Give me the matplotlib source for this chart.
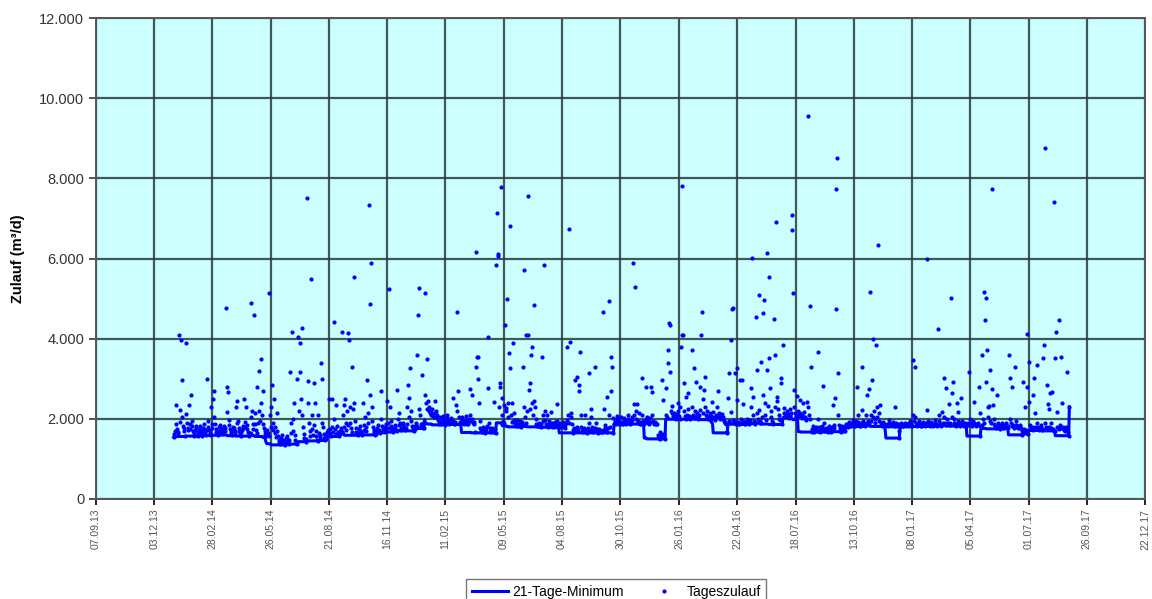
import numpy as np
import pandas as pd
import matplotlib
matplotlib.use('Agg')
import matplotlib.pyplot as plt
import matplotlib.dates as mdates
from matplotlib.ticker import FuncFormatter

plt.rcParams['font.family'] = ['Liberation Sans', 'DejaVu Sans']

# Tageszulauf in m³/d, eine Zeile pro Monat
zulauf_2014 = [
    1540, 1610, 1700, 2350, 1880, 1750, 1680, 1640, 4100, 2210, 1920, 3970, 2970, 2050, 1830, 1760, 1700, 1560, 3900, 2120, 1890, 1780, 1720, 2350, 1860, 1740, 2600, 1950, 1810, 1690, 1580,
    1650, 1720, 1810, 1760, 1600, 1570, 1680, 1750, 1830, 1700, 1620, 1580, 1690, 1780, 1860, 1740, 1660, 1600, 1720, 3000, 1950, 1800, 1710, 1640, 1590, 2300, 1880, 1760,
    2500, 2700, 2050, 1860, 1740, 1680, 1620, 1590, 1700, 1790, 1850, 1760, 1680, 1610, 1650, 1730, 1820, 1770, 1690, 4770, 2800, 2160, 2670, 1980, 1840, 1750, 1680, 1630, 1600, 1720, 1800,
    1760, 1690, 1640, 2300, 1900, 2450, 1950, 1780, 1700, 1620, 1580, 1660, 1730, 1810, 1760, 2500, 1920, 1800, 2300, 1850, 1740, 1670, 1610, 1570, 1650, 2050, 4900, 2200, 1880, 1750,
    4600, 2150, 1860, 1720, 1640, 2800, 1900, 2200, 3200, 1950, 2400, 3500, 2100, 2700, 1880, 1760, 1690, 1620, 1580, 1650, 1720, 1640, 1560, 5140, 2100, 1800, 2300, 2850, 1900, 1720, 2500,
    1800, 1650, 1540, 2150, 1700, 1560, 1480, 1420, 1380, 1450, 1520, 1600, 1480, 1400, 1360, 1350, 1430, 1510, 1580, 1490, 1410, 1370, 1460, 3170, 1900, 1650, 4170, 2000, 1700, 2400,
    1600, 1480, 1400, 1370, 3000, 4050, 2200, 3170, 3900, 2500, 4260, 2100, 1800, 1620, 1520, 1460, 1430, 1500, 7500, 2400, 2950, 1900, 1700, 1580, 5500, 2100, 1750, 1600, 2900, 1850, 2400,
    1700, 1560, 1480, 1450, 2100, 1650, 1540, 1600, 3400, 1900, 3000, 1800, 1620, 1520, 1460, 1500, 1580, 1670, 1720, 1600, 2500, 1750, 1640, 1560, 2500, 1800, 1680, 4420, 2000, 1750, 1620,
    2350, 1820, 1680, 1600, 1560, 1620, 1700, 1780, 1660, 4170, 2100, 1800, 2350, 2500, 1900, 1720, 2200, 1850, 4140, 3970, 2300, 1900, 1760, 1680, 3300, 2250, 5550, 2400, 1950, 1780,
    1680, 1620, 1590, 1650, 1740, 1820, 1700, 1640, 1600, 1680, 2400, 1850, 1720, 2050, 1800, 1690, 2970, 1900, 2150, 7330, 4870, 2600, 5900, 2300, 1950, 1800, 1720, 1660, 1600, 1630, 1700,
    1780, 1850, 1720, 1680, 1650, 2700, 2000, 1820, 1740, 1690, 1660, 1720, 1800, 1870, 1760, 2450, 1900, 1780, 5240, 2300, 1950, 1820, 1740, 1700, 1670, 1760, 1850, 1800, 1720, 1690,
    2720, 2000, 1850, 2150, 1900, 1780, 1720, 1760, 1840, 1900, 1800, 1740, 1710, 1780, 1860, 2300, 2850, 2520, 2050, 3270, 2200, 1950, 1820, 1760, 1720, 1700, 1750, 1830, 1900, 1810, 3600,
]
zulauf_2015 = [
    4590, 2250, 5260, 2100, 1880, 1800, 3100, 1900, 1780, 1760, 5140, 2600, 2400, 2250, 3500, 2450, 2300, 2200, 2150, 2100, 2180, 2250, 2120, 2080, 2050, 2150, 2450, 2200, 2100, 2040, 1980,
    1880, 1950, 2050, 1920, 1870, 1900, 1990, 2080, 1960, 1890, 1850, 1920, 2010, 2100, 1980, 1900, 1860, 1940, 2030, 1970, 1890, 2520, 1950, 1880, 1860, 1920, 2350, 4670,
    2200, 2700, 2050, 1930, 1880, 1900, 1960, 2040, 1920, 1870, 1900, 1980, 2060, 1950, 1880, 1860, 1920, 2000, 2750, 2100, 1950, 2600, 2000, 1900, 1870, 1920, 1660, 6160, 3300, 3550, 3000,
    3550, 2400, 1950, 1780, 1700, 1660, 1720, 1800, 1750, 1680, 1650, 1700, 1760, 1820, 4050, 2770, 1900, 1760, 1690, 1660, 1720, 1780, 1700, 1670, 2420, 1750, 1650, 5840, 7140, 6100,
    6060, 2300, 2900, 2800, 7780, 2520, 2100, 1950, 2350, 1900, 4340, 2200, 2270, 5000, 2400, 2050, 3640, 6800, 3270, 2100, 1920, 2400, 3900, 2150, 1980, 1880, 1830, 1900, 1960, 1850, 1820,
    1880, 1950, 1830, 1800, 1870, 1920, 3300, 5710, 2300, 2050, 1900, 4090, 2200, 4090, 7560, 2720, 2900, 2250, 3600, 3800, 2400, 2100, 4840, 2450, 2300, 2000, 1880, 1830, 1810, 1860,
    1900, 1850, 1800, 1880, 3550, 2100, 1950, 5840, 2200, 1980, 1860, 2100, 1820, 1800, 1880, 1950, 1870, 1830, 2170, 1900, 1820, 1790, 1850, 1930, 1880, 1810, 2370, 1950, 1840, 1800, 1850,
    1900, 1830, 1800, 1860, 1920, 1850, 1800, 1780, 1840, 1900, 1960, 3800, 2100, 1900, 6740, 3920, 2050, 2150, 1880, 1650, 1720, 1780, 2970, 1750, 1690, 3050, 1800, 1720, 2700, 2850, 3670,
    2100, 1800, 1700, 1670, 1720, 1780, 2100, 1750, 1680, 1650, 1700, 1760, 3150, 1900, 1720, 2250, 2050, 1800, 1690, 1660, 1710, 1780, 3300, 1900, 1750, 1680, 1650, 1700, 1740, 1690,
    1700, 1680, 1660, 1720, 4670, 2250, 1850, 1760, 1700, 1680, 2550, 1780, 4940, 2100, 1800, 3550, 2700, 3300, 2020, 1650, 1880, 1950, 1900, 1870, 2000, 2080, 1960, 1900, 1880, 1930, 2050,
    1920, 1880, 1870, 1950, 2030, 1960, 1900, 1880, 1920, 2000, 2100, 1980, 1900, 1870, 1890, 1960, 2050, 5890, 2370, 2100, 5290, 2200, 2000, 2370, 1950, 1900, 2150, 1920, 1880, 1870,
    3020, 2100, 1950, 1900, 1880, 1920, 1990, 2800, 2050, 1950, 1900, 1880, 1930, 2010, 2800, 2670, 2100, 1950, 1900, 1880, 1920, 1870, 1860, 1880, 1520, 1600, 1550, 1680, 1500, 1560, 1620,
]
zulauf_2016 = [
    2970, 2470, 1550, 1620, 1500, 2770, 2100, 2050, 3720, 3390, 4390, 4340, 3170, 2200, 2320, 2150, 2080, 2020, 2150, 2100, 1990, 2050, 2120, 2400, 2200, 2060, 2000, 2300, 3800, 7810, 4090,
    4090, 2900, 2200, 2080, 2000, 2540, 2100, 2640, 2250, 2080, 2020, 1990, 2050, 3720, 2300, 2100, 2030, 3270, 2200, 2080, 2920, 2150, 2050, 2000, 2100, 2220, 2800, 4090, 4670,
    2490, 2150, 2720, 3050, 2300, 2100, 2200, 2050, 1990, 2020, 2080, 2150, 2060, 2000, 2420, 2180, 2050, 2000, 1980, 2030, 2100, 2080, 2300, 2700, 2150, 2050, 2000, 2020, 2090, 2130, 2050,
    2000, 1950, 1920, 1900, 1880, 1650, 1680, 2520, 3140, 1950, 1900, 3970, 2170, 4740, 4770, 1980, 1900, 3140, 1950, 1880, 3270, 2470, 1920, 1880, 1870, 2970, 2000, 1900, 2970, 2370,
    1950, 1900, 1870, 1880, 1920, 2000, 1950, 1890, 1860, 1900, 1980, 2770, 2300, 6010, 2540, 2100, 1950, 1900, 1880, 4540, 3220, 2150, 2000, 5090, 2220, 1950, 1900, 3420, 2050, 4640, 2600,
    4970, 2400, 2100, 1980, 6140, 3220, 2320, 5540, 3520, 2770, 2200, 2050, 1950, 1900, 1870, 4500, 3590, 2300, 6910, 2540, 2450, 2250, 2100, 2000, 1960, 3020, 2900, 1860, 3840, 2270,
    2150, 2080, 2050, 2100, 2200, 2120, 2060, 2030, 2100, 2250, 2150, 6710, 7090, 5140, 2720, 2300, 2150, 2080, 2050, 2570, 2200, 2100, 2060, 2470, 2150, 2080, 2030, 2100, 2400, 2180, 2050,
    2050, 2000, 1980, 2420, 9560, 2300, 2100, 4820, 2000, 3300, 1680, 1750, 1820, 1700, 1670, 1740, 1800, 1720, 1690, 3670, 2000, 1800, 1720, 1680, 1750, 1820, 1760, 2820, 1900, 1750, 1690,
    1720, 1780, 1700, 1680, 1740, 1820, 1760, 1700, 1670, 1730, 1800, 2350, 1850, 1760, 2520, 7730, 4740, 8510, 3140, 2100, 1850, 1760, 1700, 1680, 1750, 1820, 1780, 1720, 1690, 1700,
    1850, 1880, 1820, 1800, 1860, 1920, 1870, 1830, 1810, 1850, 1900, 1960, 1880, 1830, 1810, 1870, 1950, 2800, 2100, 1920, 1860, 1830, 1820, 1900, 3300, 2220, 1950, 1880, 1840, 1810, 2100,
    1900, 2600, 1950, 1880, 2740, 5160, 2100, 1950, 2970, 2050, 3990, 2200, 2000, 1900, 3840, 2050, 2300, 6340, 2150, 1950, 2350, 1900, 1850, 1820, 1880, 1930, 1860, 1810, 1830, 1850,
    1880, 1850, 1820, 1900, 1960, 1880, 1840, 1820, 1870, 1920, 1860, 1830, 1810, 2300, 1900, 1850, 1820, 1880, 1700, 1520, 1800, 1850, 1900, 1880, 1830, 1820, 1870, 1900, 1850, 1830, 1880,
]
zulauf_2017 = [
    1880, 1850, 1830, 1900, 1950, 1870, 1840, 1820, 3470, 2100, 1950, 3300, 2050, 1900, 1860, 1830, 1880, 1940, 1900, 1850, 1820, 1810, 1870, 1920, 1880, 1840, 1820, 1860, 1900, 5990, 2220,
    1950, 1900, 1860, 1830, 1880, 1920, 1870, 1840, 1810, 1850, 1900, 1960, 1880, 1840, 1820, 4240, 2100, 1950, 1880, 1840, 1820, 2170, 1900, 3020, 2050, 1900, 1850, 2770,
    2000, 1900, 1860, 2370, 1900, 1850, 5010, 2640, 2050, 2920, 2000, 1900, 1850, 1830, 1880, 2400, 1950, 2170, 1900, 1860, 1820, 2520, 1950, 1880, 1840, 1820, 1870, 1900, 1860, 1830, 1850,
    1900, 1850, 3170, 2000, 1900, 1860, 1830, 1880, 1950, 1900, 2420, 1880, 1840, 1820, 1860, 1900, 1850, 2800, 2150, 1570, 1800, 1850, 3590, 2000, 1900, 5160, 4470, 2920, 5010, 3720,
    2300, 2050, 2320, 1950, 3220, 1900, 2740, 7730, 2350, 2000, 1880, 1820, 1790, 1760, 2600, 1900, 1820, 1780, 1750, 1800, 1850, 1900, 1820, 1780, 1760, 1800, 1850, 1900, 1830, 1790, 1770,
    1820, 3590, 2000, 3020, 1900, 1830, 2800, 1850, 1800, 1780, 3300, 1950, 1850, 1800, 1780, 1820, 1760, 1800, 1850, 1780, 1600, 1700, 2920, 1750, 1680, 2300, 1720, 2800, 4120, 1620,
    3420, 2420, 1850, 1780, 1750, 1800, 1720, 2600, 3020, 1800, 2150, 1760, 3340, 1900, 1800, 1750, 1720, 1780, 1850, 1760, 1710, 1740, 3520, 3840, 1900, 8760, 1800, 1750, 2840, 2370, 1800,
    2250, 2650, 1900, 1780, 2670, 1750, 1720, 7410, 3520, 1700, 4170, 2170, 1800, 1760, 1740, 4470, 1850, 1780, 3540, 2400, 1800, 1760, 1720, 1700, 1750, 1800, 1720, 3170, 1680, 1580, 2300,
]

x_tick_labels = ['07.09.13', '03.12.13', '28.02.14', '26.05.14', '21.08.14', '16.11.14',
                 '11.02.15', '09.05.15', '04.08.15', '30.10.15', '26.01.16', '22.04.16',
                 '18.07.16', '13.10.16', '08.01.17', '05.04.17', '01.07.17', '26.09.17',
                 '22.12.17']
y_ticks = [0, 2000, 4000, 6000, 8000, 10000, 12000]

# Zeitreihe aufbauen
teile = []
for jahr, werte in [(2014, zulauf_2014), (2015, zulauf_2015), (2016, zulauf_2016), (2017, zulauf_2017)]:
    teile.append(pd.Series(werte, index=pd.date_range(f'{jahr}-01-01', periods=len(werte), freq='D')))
zulauf = pd.concat(teile)

# 21-Tage-Minimum (Fenster nach vorn, am Ende kürzer)
minimum = zulauf[::-1].rolling(21, min_periods=1).min()[::-1]

fig = plt.figure(figsize=(11.52, 5.99), dpi=100)
ax = fig.add_axes([96 / 1152, 1 - 499 / 599, 1049 / 1152, 481 / 599])
ax.set_facecolor('#CCFFFF')

ax.plot(minimum.index, minimum.values, color='#0000FF', lw=2.2, label='21-Tage-Minimum', zorder=3)
ax.plot(zulauf.index, zulauf.values, ls='none', marker='o', ms=2.0, mec='#0000FF',
        mfc='#0000FF', label='Tageszulauf', zorder=4)

x_ticks = pd.to_datetime(x_tick_labels, format='%d.%m.%y')
ax.set_xlim(x_ticks[0], x_ticks[-1])
ax.set_xticks(x_ticks)
ax.set_xticklabels(x_tick_labels, rotation=90, fontsize=7.5, color='#555555')
ax.set_ylim(0, 12000)
ax.set_yticks(y_ticks)
ax.yaxis.set_major_formatter(FuncFormatter(lambda v, p: f'{v:,.0f}'.replace(',', '.')))
ax.tick_params(axis='y', labelsize=10.5, colors='#333333', length=5, width=1.2, direction='out')
ax.tick_params(axis='x', length=4, width=1.2, direction='out', pad=3)
ax.set_ylabel('Zulauf (m³/d)', fontsize=10.5, fontweight='bold', labelpad=10)

ax.grid(True, color='#2a3a3a', lw=1.6, alpha=0.85)
ax.set_axisbelow(True)
for s in ax.spines.values():
    s.set_color('#555555')
    s.set_linewidth(1.4)

fig.legend(loc='upper center', bbox_to_anchor=(0.535, 0.045), ncol=2, frameon=True,
           fancybox=False, edgecolor='#555555', fontsize=10, handlelength=2.6,
           handletextpad=0.3, borderpad=0.4, columnspacing=1.6, markerscale=1.0)

fig.savefig('out.png', dpi=100)
